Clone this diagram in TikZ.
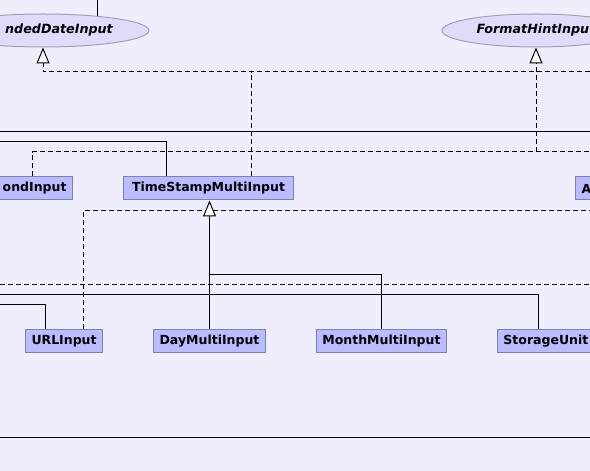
\documentclass[tikz,border=0pt]{standalone}
\usepackage{fontspec}
\setmainfont{DejaVu Sans}
\usetikzlibrary{arrows.meta,positioning,shapes.geometric}
\definecolor{canvas}{RGB}{238,238,252}
\definecolor{classfill}{RGB}{187,187,255}
\definecolor{classline}{RGB}{128,128,176}
\definecolor{ifacefill}{RGB}{221,221,250}
\definecolor{ifaceline}{RGB}{160,160,184}

\begin{document}
\begin{tikzpicture}[
    x=1pt, y=1pt,
    node distance=50pt,
    cls/.style={draw=classline, fill=classfill, line width=1pt, minimum height=23pt, inner xsep=6pt, inner ysep=0pt, font=\fontsize{12.5}{14}\selectfont\bfseries},
    iface/.style={ellipse, draw=ifaceline, fill=ifacefill, line width=1pt, minimum height=33pt, inner sep=0pt, font=\fontsize{12.7}{14}\selectfont\bfseries\itshape},
    wire/.style={line width=1pt},
    dwire/.style={line width=1pt, dash pattern=on 5pt off 3pt},
    gen/.style={wire, -{Triangle[length=16pt, width=13pt, fill=white]}},
    real/.style={dwire, -{Triangle[length=16pt, width=13pt, fill=white]}}
]
\fill[canvas] (0,0) rectangle (590,471);
\useasboundingbox (0,0) rectangle (590,471);
\clip (0,0) rectangle (590,471);

\node[iface, minimum width=212pt] (bounded) at (43,440.5) {\hspace*{32pt}ndedDateInput};
\node[iface, minimum width=188pt] (fmthint) at (536,440.5) {FormatHintInpu\hspace*{6pt}};
\node[cls, anchor=east] (second) at (73,282.5) {\hspace*{24pt}ondInput};
\node[cls, right=of second, minimum width=170pt] (tsmulti) {TimeStampMultiInput};
\node[cls, anchor=west] (anyin) at (575,282.5) {A\hspace*{24pt}};
\node[cls, anchor=west] (url) at (25,129.5) {URLInput};
\node[cls, right=of url] (day) {DayMultiInput};
\node[cls, right=of day] (month) {MonthMultiInput};
\node[cls, right=of month] (storage) {StorageUnit\hspace*{24pt}};

\coordinate (topend) at (97,471);
\coordinate (railA) at (590,399);
\coordinate (crossW) at (0,339);
\coordinate (crossE) at (590,339);
\coordinate (tsIn) at (0,329);
\coordinate (railB) at (590,319);
\coordinate (railC) at (590,260);
\coordinate (dashW) at (0,186);
\coordinate (dashE) at (590,186);
\coordinate (storIn) at (0,176);
\coordinate (urlIn) at (0,166);
\coordinate (baseW) at (0,33);
\coordinate (baseE) at (590,33);

\draw[wire] (bounded.15) -- (bounded.15 |- topend);
\draw[real] (railA) -| (bounded.south);
\draw[dwire] ([xshift=43pt]tsmulti.north) -- ([xshift=43pt]tsmulti.north |- railA);
\draw[wire] (crossW) -- (crossE);
\draw[wire] (tsIn) -| ([xshift=-42pt]tsmulti.north);
\draw[dwire] ([xshift=-41pt]second.north east) |- (railB);
\draw[real] (fmthint.south |- railB) -- (fmthint.south);
\draw[dwire] ([xshift=19.5pt]url.north) |- (railC);
\draw[gen] (day.north) -- (day.north |- tsmulti.south);
\draw[wire] (month.north) |- ([yshift=55pt]day.north);
\draw[dwire] (dashW) -- (dashE);
\draw[wire] (storIn) -| ([xshift=42pt]storage.north west);
\draw[wire] (urlIn) -| ([xshift=-18.5pt]url.north);
\draw[wire] (baseW) -- (baseE);
\end{tikzpicture}
\end{document}
